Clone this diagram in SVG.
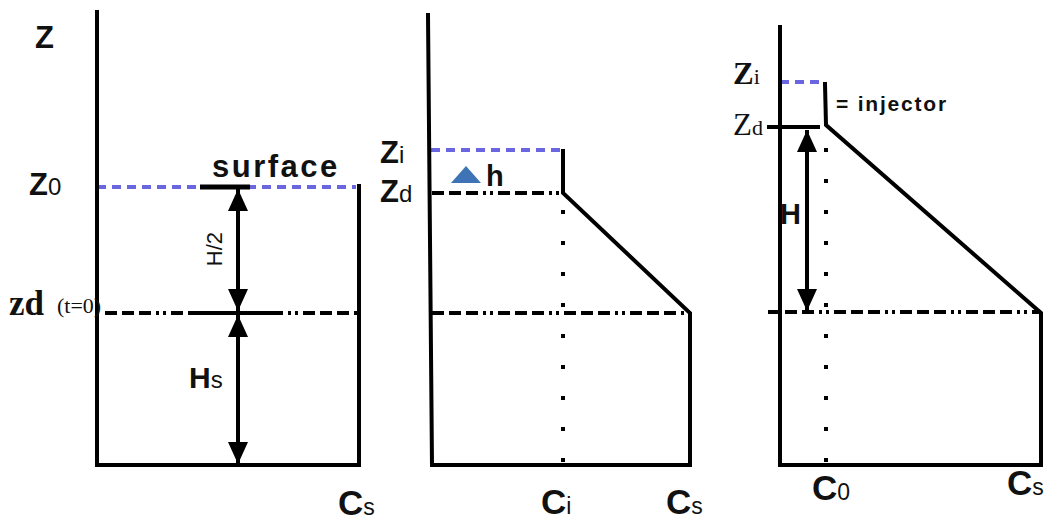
<svg xmlns="http://www.w3.org/2000/svg" width="1059" height="523" viewBox="0 0 1059 523">
  <style>
    .wall { stroke: #000; stroke-width: 4; fill: none; stroke-linecap: square; }
    .blue { stroke: #6a66e0; stroke-width: 4; stroke-dasharray: 9 6; fill: none; }
    .dashdot { stroke: #000; stroke-width: 4; stroke-dasharray: 12 5 12 5 12 5 3 4 3 5; fill: none; }
    .dots { stroke: #000; stroke-width: 4; stroke-dasharray: 4 27; fill: none; }
    .arrow { stroke: #000; stroke-width: 4; fill: none; }
    .sans { font-family: "Liberation Sans", Arial, sans-serif; fill: #111; }
    .serif { font-family: "Liberation Serif", "Times New Roman", serif; fill: #111; }
    .big { font-size: 35px; font-weight: bold; }
    .sub { font-size: 23px; }
  </style>
  <defs>
    <marker id="head" viewBox="0 0 22 20" refX="22" refY="10" markerWidth="5.5" markerHeight="5" orient="auto-start-reverse" markerUnits="strokeWidth">
      <path d="M0,0 L22,10 L0,20 z" fill="#000"/>
    </marker>
  </defs>
  <rect width="1059" height="523" fill="#fff"/>

  <!-- Panel 1: initial state -->
  <g id="panel1">
    <line class="blue" x1="97" y1="187" x2="356" y2="187"/>
    <line class="dashdot" x1="105" y1="313" x2="359" y2="313"/>
    <line x1="200" y1="187" x2="250" y2="187" stroke="#000" stroke-width="5"/>
    <line x1="200" y1="313" x2="280" y2="313" stroke="#000" stroke-width="4"/>
    <path class="wall" d="M97,12 L97,465 L359,465 L359,186"/>
    <text class="sans" x="35" y="48" font-size="31" font-weight="bold">Z</text>
    <text class="sans" x="29" y="195" font-size="31" font-weight="bold">Z<tspan font-weight="normal" font-size="24">0</tspan></text>
    <text class="sans" x="212" y="177" font-size="31" font-weight="bold" letter-spacing="2.5">surface</text>
    <text class="sans" transform="translate(222,249) rotate(-90)" font-size="22" fill="#444" text-anchor="middle">H/2</text>
    <text class="serif" x="9" y="315" font-size="35" font-weight="bold">zd</text>
    <text class="serif" x="57" y="313" font-size="22">(t=0)</text>
    <text class="sans" x="189" y="388" font-size="30" font-weight="bold">H<tspan font-weight="normal" font-size="24">s</tspan></text>
    <text class="sans" x="338" y="515"><tspan class="big">C</tspan><tspan class="sub">s</tspan></text>
  </g>

  <!-- Panel 2: after injection -->
  <g id="panel2">
    <line class="blue" x1="431" y1="150" x2="562" y2="150"/>
    <line class="dashdot" x1="432" y1="193" x2="563" y2="193"/>
    <line class="dashdot" x1="432" y1="313" x2="690" y2="313"/>
    <line class="dots" x1="563" y1="210" x2="563" y2="468"/>
    <path class="wall" d="M428,15 L432,465 L690,465 L690,313 L563,193 L563,151"/>
    <polygon points="466,166 481,183 451,183" fill="#3e73b6"/>
    <text class="sans" x="380" y="163" font-size="31" font-weight="bold">Z<tspan font-weight="normal" font-size="24">i</tspan></text>
    <text class="sans" x="380" y="202" font-size="31" font-weight="bold">Z<tspan font-weight="normal" font-size="24">d</tspan></text>
    <text class="sans" x="486" y="186" font-size="29" font-weight="bold">h</text>
    <text class="sans" x="541" y="514"><tspan class="big">C</tspan><tspan class="sub">i</tspan></text>
    <text class="sans" x="666" y="514"><tspan class="big">C</tspan><tspan class="sub">s</tspan></text>
  </g>

  <!-- Panel 3: injector profile -->
  <g id="panel3">
    <line class="blue" x1="780" y1="82" x2="823" y2="82"/>
    <line x1="767" y1="127" x2="820" y2="127" stroke="#000" stroke-width="4"/>
    <line class="dashdot" x1="768" y1="312" x2="1041" y2="312"/>
    <line class="dots" x1="826" y1="148" x2="826" y2="468"/>
    <path class="wall" d="M780,27 L780,465 L1041,465 L1041,313 L826,125 L825,84"/>
    <text class="serif" x="733" y="84" font-size="31" font-weight="bold">Z<tspan font-weight="normal" font-size="22">i</tspan></text>
    <text class="serif" x="733" y="135" font-size="31">Z<tspan font-size="22">d</tspan></text>
    <text class="sans" x="836" y="111" font-size="21" font-weight="bold" letter-spacing="1.8" fill="#222">= injector</text>
    <text class="sans" x="780" y="224" font-size="29" font-weight="bold">H</text>
    <text class="sans" x="812" y="500"><tspan class="big">C</tspan><tspan class="sub">0</tspan></text>
    <text class="sans" x="1007" y="495"><tspan class="big">C</tspan><tspan class="sub">s</tspan></text>
  </g>

  <!-- Dimension arrows -->
  <g id="connectors">
    <line class="arrow" x1="238" y1="189" x2="238" y2="311" marker-start="url(#head)" marker-end="url(#head)"/>
    <line class="arrow" x1="238" y1="315" x2="238" y2="464" marker-start="url(#head)" marker-end="url(#head)"/>
    <line class="arrow" x1="807" y1="130" x2="807" y2="311" marker-start="url(#head)" marker-end="url(#head)"/>
  </g>
</svg>
